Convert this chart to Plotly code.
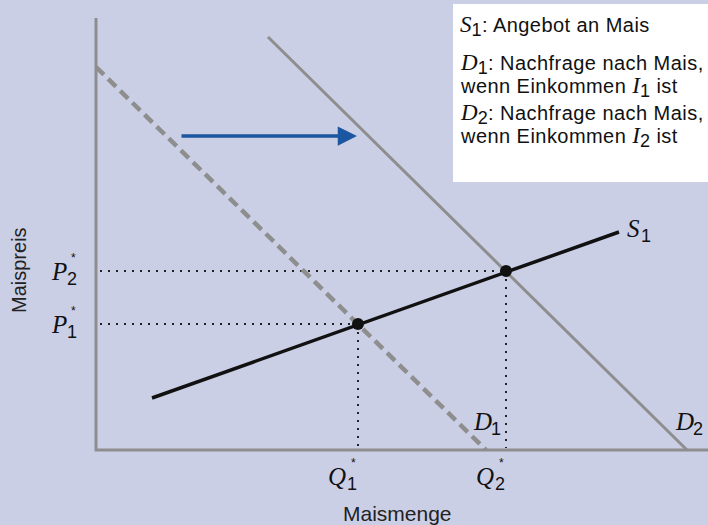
import plotly.graph_objects as go

# Data in chart coordinates (origin at the axis corner)
d1_x = [0, 390]
d1_y = [383, 0]
d2_x = [172, 591]
d2_y = [413, 0]
s1_x = [56, 523]
s1_y = [52, 218]
eq_x = [262, 410]
eq_y = [126, 179]
axis_x_end = 612
axis_y_end = 432
arrow_from = (84, 314)
arrow_to = (261, 314)

BG = "#cbcfe6"
GRAY = "#8e8e8e"
SERIF = "Liberation Serif"
SANS = "Liberation Sans"

fig = go.Figure()

# axes
fig.add_trace(go.Scatter(x=[0, 0, axis_x_end], y=[axis_y_end, 0, 0], mode="lines",
                         line=dict(color=GRAY, width=3), hoverinfo="skip"))
# dotted guides
for qx, py in zip(eq_x, eq_y):
    fig.add_trace(go.Scatter(x=[4, qx], y=[py, py], mode="lines",
                             line=dict(color="#222", width=2, dash="2px,6px"), hoverinfo="skip"))
    fig.add_trace(go.Scatter(x=[qx, qx], y=[py, 2], mode="lines",
                             line=dict(color="#222", width=2, dash="2px,6px"), hoverinfo="skip"))
# curves
fig.add_trace(go.Scatter(x=d1_x, y=d1_y, mode="lines", line=dict(color=GRAY, width=4.5, dash="11px,6px"), hoverinfo="skip"))
fig.add_trace(go.Scatter(x=d2_x, y=d2_y, mode="lines", line=dict(color=GRAY, width=3), hoverinfo="skip"))
fig.add_trace(go.Scatter(x=s1_x, y=s1_y, mode="lines", line=dict(color="#111", width=3.5), hoverinfo="skip"))
fig.add_trace(go.Scatter(x=eq_x, y=eq_y, mode="markers", marker=dict(color="#111", size=12), hoverinfo="skip"))


def lab(x, y, main, sub, star=False, dx=13):
    # main letter (italic serif) centred at x, y; subscript to its right and lower
    fig.add_annotation(x=x, y=y, xref="x", yref="y", showarrow=False,
                       text=f"<i>{main}</i>", font=dict(family=SERIF, size=25, color="#111"))
    fig.add_annotation(x=x + dx, y=y - 8, xref="x", yref="y", showarrow=False,
                       text=sub, font=dict(family=SANS, size=18, color="#111"))
    if star:
        fig.add_annotation(x=x + dx + 1, y=y + 13, xref="x", yref="y", showarrow=False,
                           text="*", font=dict(family=SANS, size=12, color="#111"))


lab(-37, eq_y[1], "P", "2", True)
lab(-37, eq_y[0], "P", "1", True)
lab(eq_x[0] - 21, -26, "Q", "1", True, dx=15)
lab(eq_x[1] - 21, -26, "Q", "2", True, dx=15)
lab(386, 29, "D", "1", dx=14)
lab(588, 29, "D", "2", dx=14)
lab(537, 222, "S", "1")

# arrow
fig.add_annotation(x=arrow_to[0], y=arrow_to[1], ax=arrow_from[0], ay=arrow_from[1],
                   xref="x", yref="y", axref="x", ayref="y", showarrow=True,
                   arrowhead=2, arrowsize=1.1, arrowwidth=3.5, arrowcolor="#1b56a0", text="")

# axis titles
fig.add_annotation(x=-77, y=180, xref="x", yref="y", showarrow=False, textangle=-90,
                   text="Maispreis", font=dict(family=SANS, size=20, color="#222"))
fig.add_annotation(x=301, y=-63, xref="x", yref="y", showarrow=False,
                   text="Maismenge", font=dict(family=SANS, size=21, color="#222"))

# legend box
fig.add_shape(type="rect", x0=357, x1=612, y0=268, y1=446, xref="x", yref="y",
              fillcolor="white", line=dict(width=0), layer="below")

IT = f"<span style='font-family:{SERIF};font-style:italic;font-size:23px;letter-spacing:0px'>"
SB = "<sub><span style='font-size:18px'>"
legend_lines = [
    (424, f"{IT}S</span>{SB}1</span></sub>: Angebot an Mais"),
    (386, f"{IT}D</span>{SB}1</span></sub>: Nachfrage nach Mais,"),
    (363, f"wenn Einkommen {IT}I</span>{SB}1</span></sub> ist"),
    (336, f"{IT}D</span>{SB}2</span></sub>: Nachfrage nach Mais,"),
    (313, f"wenn Einkommen {IT}I</span>{SB}2</span></sub> ist"),
]
for y, t in legend_lines:
    fig.add_annotation(x=362, y=y, xref="x", yref="y", showarrow=False, align="left",
                       xanchor="left", yanchor="middle",
                       text=f"<span style='letter-spacing:0.45px'>{t}</span>",
                       font=dict(family=SANS, size=20, color="#111"))

fig.update_layout(
    width=708, height=525, margin=dict(l=0, r=0, t=0, b=0),
    paper_bgcolor=BG, plot_bgcolor=BG, showlegend=False,
    xaxis=dict(range=[-96, 612], visible=False, fixedrange=True),
    yaxis=dict(range=[-75, 450], visible=False, fixedrange=True),
)
fig.write_html("out.html", config={"displayModeBar": False},
               post_script="document.body.style.margin='0';document.body.style.overflow='hidden';")
